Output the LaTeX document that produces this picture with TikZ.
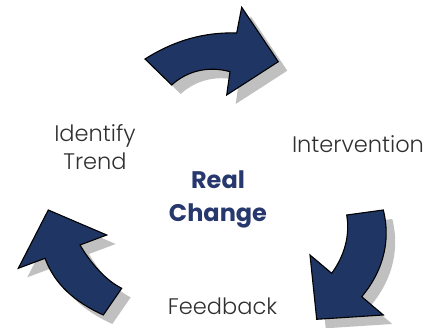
\documentclass[tikz,border=0pt]{standalone}
\usepackage{fontspec}
\setmainfont{Poppins Light}[BoldFont={Poppins Bold}]
\begin{document}
\begin{tikzpicture}[x=1pt,y=-1pt,
  arrowbody/.style={fill=arrowblue,draw=black,line width=1.1pt,line join=miter},
  arrowshade/.style={fill=shadegray,draw=none},
  steplabel/.style={text=labelgray,font=\fontsize{22.5}{27.7}\selectfont,align=center,inner sep=0pt},
  hublabel/.style={text=hubblue,font=\fontsize{24}{32.7}\selectfont\bfseries,align=center,inner sep=0pt}]
\definecolor{arrowblue}{HTML}{1F3563}
\definecolor{shadegray}{HTML}{C0C0C0}
\definecolor{labelgray}{HTML}{303030}
\definecolor{hubblue}{HTML}{27386E}
\useasboundingbox (0,0) rectangle (442,328);

% arrow outlines, reused for shadow and body
\def\toparrow{(145,59) .. controls (175,40) and (205,32) .. (236.7,33)
  -- (241.7,7.3) -- (278.3,61.7) -- (226.7,95) -- (230,71.7)
  .. controls (210,66) and (188,70) .. (171.7,85) -- cycle}
\def\rightarrow{(346.7,215) -- (383.3,210)
  .. controls (392,245) and (380,275) .. (361.7,296.7)
  -- (383.3,315) -- (316.7,319.3) -- (310,255) -- (331.7,273.3)
  .. controls (345,255) and (350,235) .. cycle}
\def\leftarrowpath{(48.3,210) -- (106.7,235) -- (80,245)
  .. controls (90,262) and (105,280) .. (121.7,288.3)
  -- (103.3,315) .. controls (75,302) and (55,285) .. (45,258.3)
  -- (18.3,268.3) -- cycle}

\begin{scope}[shift={(9,9)}]
  \fill[arrowshade] \toparrow;
  \fill[arrowshade] \rightarrow;
  \fill[arrowshade] \leftarrowpath;
\end{scope}
\filldraw[arrowbody] \toparrow;
\filldraw[arrowbody] \rightarrow;
\filldraw[arrowbody] \leftarrowpath;

\node[steplabel] (trend) at (95,147) {Identify\\Trend};
\node[steplabel,anchor=base] (interv) at (358,152.3) {Intervention};
\node[steplabel,anchor=base] (feed) at (222.5,315) {Feedback};
\node[hublabel] (hub) at (218,199.6) {Real\\Change};
\end{tikzpicture}
\end{document}
